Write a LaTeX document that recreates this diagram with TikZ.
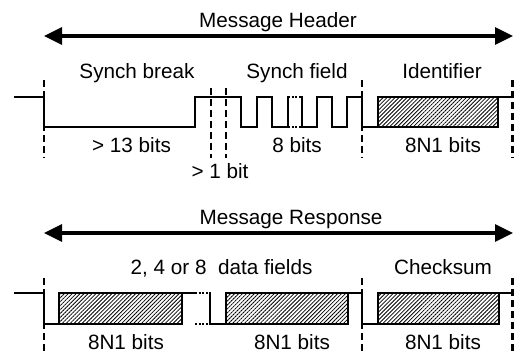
\documentclass[tikz,border=0pt]{standalone}
\usepackage{fontspec}
\setmainfont{Liberation Sans}
\usetikzlibrary{arrows.meta,patterns.meta}

\begin{document}
\begin{tikzpicture}[x=1pt,y=-1pt,
  sig/.style={line width=2.2pt, line join=miter, line cap=rect},
  dashbar/.style={line width=2.8pt, dash pattern=on 7pt off 4pt},
  dotseg/.style={line width=2.2pt, dash pattern=on 2pt off 1.6pt},
  field/.style={draw, line width=1.8pt, pattern={Lines[angle=45,distance=2.8pt,line width=0.8pt]}},
  lbl/.style={anchor=base, inner sep=0pt, font=\fontsize{20.7}{24}\selectfont},
  spanarrow/.style={line width=3.2pt, {Triangle[length=18pt,width=17pt]}-{Triangle[length=18pt,width=17pt]}}
]
\useasboundingbox (0,0) rectangle (514,354);

% ---------------- Message header ----------------
\coordinate (hL) at (44,36);
\coordinate (hR) at (513,36);
\draw[spanarrow] (hL) -- (hR);
\node[lbl] (hdr) at (278,27) {Message Header};

\node[lbl] (brk)  at (137,78) {Synch break};
\node[lbl] (sfld) at (297,78) {Synch field};
\node[lbl] (idf)  at (442,78) {Identifier};

\node[lbl] (b13)  at (131.5,152) {> 13 bits};
\node[lbl] (b1)   at (220,178) {> 1 bit};
\node[lbl] (b8)   at (297,152) {8 bits};
\node[lbl] (bid)  at (443,152) {8N1 bits};

% header waveform
\draw[sig] (15,97) -- (44,97) -- (44,127) -- (195,127) -- (195,97) -- (241,97)
  -- (241,127) -- (257,127) -- (257,97) -- (272,97) -- (272,127) -- (288,127) -- (288,97);
\draw[dotseg] (288,97) -- (302,97);
\draw[dotseg] (288,127) -- (302,127);
\draw[sig] (302,97) -- (302,127) -- (317,127) -- (317,97) -- (332,97) -- (332,127)
  -- (347,127) -- (347,97) -- (362,97) -- (362,127) -- (378,127);
\draw[field] (378,97) rectangle (498,127);
\draw[sig] (498,97) -- (514,97);

% header field boundaries
\draw[dashbar] (44,80) -- (44,158);
\draw[dashbar] (211,88) -- (211,158);
\draw[dashbar] (226,88) -- (226,158);
\draw[dashbar] (362,80) -- (362,158);
\draw[dashbar] (512.5,80) -- (512.5,158);

% ---------------- Message response ----------------
\coordinate (rL) at (44,233);
\coordinate (rR) at (513,233);
\draw[spanarrow] (rL) -- (rR);
\node[lbl] (rsp) at (291,224) {Message Response};

\node[lbl] (dat) at (221.5,274) {2, 4 or 8\ \ data fields};
\node[lbl] (chk) at (443,274) {Checksum};

\node[lbl] (d1) at (126,349) {8N1 bits};
\node[lbl] (d2) at (292,349) {8N1 bits};
\node[lbl] (cs) at (443,349) {8N1 bits};

% response waveform
\draw[sig] (15,293) -- (44,293) -- (44,324) -- (59,324);
\draw[field] (59,293) rectangle (182,324);
\draw[sig] (182,293) -- (195,293);
\draw[dotseg] (195,293) -- (210,293);
\draw[dotseg] (195,324) -- (210,324);
\draw[sig] (210,293) -- (210,324) -- (226,324);
\draw[field] (226,293) rectangle (348,324);
\draw[sig] (348,293) -- (362,293) -- (362,324) -- (378,324);
\draw[field] (378,293) rectangle (499,324);
\draw[sig] (499,293) -- (514,293);

% response field boundaries
\draw[dashbar] (44,278) -- (44,354);
\draw[dashbar] (362,278) -- (362,354);
\draw[dashbar] (512.5,278) -- (512.5,354);
\end{tikzpicture}
\end{document}
